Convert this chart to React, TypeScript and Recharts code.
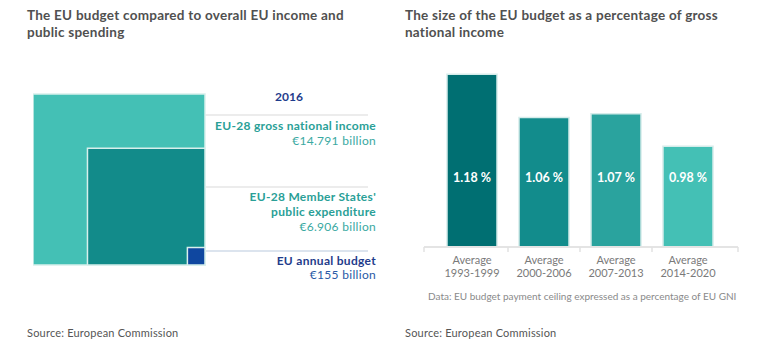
import {
    ComposedChart,
    BarChart,
    Bar,
    Cell,
    XAxis,
    YAxis,
    ReferenceArea,
    LabelList,
} from "recharts";

// left panel: 2016 values, billion euro
const squareNames = ["EU-28 gross national income", "EU-28 Member States' public expenditure", "EU annual budget"];
const squareValues = [14791, 6906, 155];
const squareColors = ["#44c0b5", "#128b8a", "#0f47a0"];

// right panel: budget as % of GNI
const periods = ["1993-1999", "2000-2006", "2007-2013", "2014-2020"];
const gniShare = [1.18, 1.06, 1.07, 0.98];
const barColors = ["#006f72", "#128c8c", "#2aa39e", "#44c0b5"];

const FONT = "Lato, 'Open Sans', sans-serif";

const side = (v: number) => Math.sqrt(v);
const S = side(squareValues[0]);

const squareData = squareValues.map((v, i) => ({ name: squareNames[i], x: S - side(v), y: side(v) }));
const barData = periods.map((p, i) => ({ period: p, value: gniShare[i] }));

const PeriodTick = ({ x, y, payload, index }: any) => {
    const bw = 72;
    const lines: number[] = [];
    if (index === 0) lines.push(x - bw / 2 - 12);
    else lines.push(x - bw / 2);
    if (index === periods.length - 1) lines.push(x + bw / 2 + 14);
    return (
        <g>
            {lines.map((lx, k) => (
                <line key={k} x1={lx} x2={lx} y1={y} y2={y + 5} stroke="#e2e2e2" strokeWidth={1.5} />
            ))}
            <text x={x} y={y + 17} textAnchor="middle" fill="#7a7a7a" fontSize={11} fontFamily={FONT}>
                Average
            </text>
            <text x={x} y={y + 30} textAnchor="middle" fill="#7a7a7a" fontSize={11} fontFamily={FONT}>
                {payload.value}
            </text>
        </g>
    );
};

const ValueLabel = ({ x, y, width, height, value }: any) => (
    <text
        x={x + width / 2}
        y={y + height - 65}
        textAnchor="middle"
        fill="#fff"
        fontSize={12.5}
        fontWeight={700}
        fontFamily={FONT}
    >
        {value.toFixed(2)} %
    </text>
);

const txt = (top: number, text: string, color: string, bold = false) => (
    <div
        style={{
            position: "absolute",
            right: 774 - 376,
            top,
            color,
            fontSize: 12,
            letterSpacing: 0.3,
            fontWeight: bold ? 700 : 400,
            lineHeight: "14px",
            whiteSpace: "nowrap",
        }}
    >
        {text}
    </div>
);

const hline = (top: number, color: string) => (
    <div style={{ position: "absolute", left: 205, top, width: 163, height: 2, background: color }} />
);

const titleStyle = {
    position: "absolute" as const,
    top: 7,
    width: 370,
    color: "#505050",
    fontSize: 13.5,
    letterSpacing: 0.25,
    fontWeight: 700,
    lineHeight: "16.5px",
};

const sourceStyle = {
    position: "absolute" as const,
    top: 326,
    color: "#555",
    fontSize: 11,
    letterSpacing: 0.2,
};

export default function App() {
    return (
        <div
            style={{
                position: "relative",
                width: 774,
                height: 360,
                margin: -8,
                background: "#fff",
                fontFamily: FONT,
                overflow: "hidden",
            }}
        >
            <div style={{ ...titleStyle, left: 27 }}>
                The EU budget compared to overall EU income and
                <br />
                public spending
            </div>
            <div style={{ ...titleStyle, left: 405 }}>
                The size of the EU budget as a percentage of gross
                <br />
                national income
            </div>

            {hline(114, "#ececec")}
            {hline(186, "#ececec")}
            {hline(250, "#dce4ee")}

            <div style={{ position: "absolute", left: 33, top: 0 }}>
                <ComposedChart
                    width={357}
                    height={300}
                    data={squareData}
                    margin={{ top: 94, right: 185, bottom: 35, left: 0 }}
                >
                    <XAxis type="number" dataKey="x" domain={[0, S]} hide />
                    <YAxis type="number" dataKey="y" domain={[0, S]} hide />
                    {squareValues.map((v, i) => (
                        <ReferenceArea
                            key={i}
                            x1={S - side(v)}
                            x2={S}
                            y1={0}
                            y2={side(v)}
                            fill={squareColors[i]}
                            fillOpacity={1}
                            stroke="#d8efec"
                            strokeWidth={1.5}
                        />
                    ))}
                </ComposedChart>
            </div>

            <div style={{ position: "absolute", left: 275, top: 89, color: "#1f3c8c", fontSize: 12, fontWeight: 700 }}>2016</div>
            {txt(119, "EU-28 gross national income", "#2a9f97", true)}
            {txt(134, "€14.791 billion", "#3aa9a2")}
            {txt(190, "EU-28 Member States'", "#2a9f97", true)}
            {txt(205, "public expenditure", "#2a9f97", true)}
            {txt(220, "€6.906 billion", "#3aa9a2")}
            {txt(254, "EU annual budget", "#1f3c8c", true)}
            {txt(268, "€155 billion", "#2a5aa6")}

            <div style={{ position: "absolute", left: 400, top: 0 }}>
                <BarChart
                    width={374}
                    height={300}
                    data={barData}
                    margin={{ top: 67, right: 36, bottom: 13, left: 24 }}
                >
                    <XAxis
                        dataKey="period"
                        height={40}
                        padding={{ left: 12, right: 14 }}
                        axisLine={{ stroke: "#e4e4e4", strokeWidth: 2 }}
                        tickLine={false}
                        tickSize={0}
                        tickMargin={0}
                        interval={0}
                        tick={<PeriodTick />}
                    />
                    <YAxis hide domain={[0.7, 1.2]} allowDataOverflow />
                    <Bar dataKey="value" barSize={50} isAnimationActive={false} stroke="#d5ecea" strokeWidth={1.5}>
                        {barData.map((d, i) => (
                            <Cell key={d.period} fill={barColors[i]} />
                        ))}
                        <LabelList dataKey="value" content={<ValueLabel />} />
                    </Bar>
                </BarChart>
            </div>

            <div style={{ position: "absolute", left: 428, top: 290, color: "#8a8a8a", fontSize: 10 }}>
                Data: EU budget payment ceiling expressed as a percentage of EU GNI
            </div>
            <div style={{ ...sourceStyle, left: 27 }}>Source: European Commission</div>
            <div style={{ ...sourceStyle, left: 405 }}>Source: European Commission</div>
        </div>
    );
}
